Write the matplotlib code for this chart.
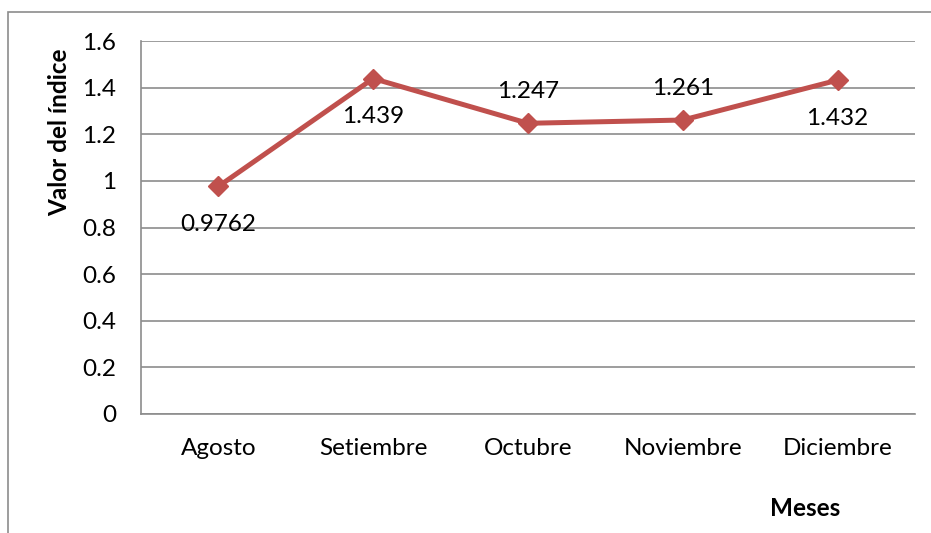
import matplotlib
matplotlib.use("Agg")
import matplotlib.pyplot as plt
from matplotlib.patches import Rectangle

months = ["Agosto", "Setiembre", "Octubre", "Noviembre", "Diciembre"]
values = [0.9762, 1.439, 1.247, 1.261, 1.432]
labels = ["0.9762", "1.439", "1.247", "1.261", "1.432"]
label_pos = ["below", "below", "above", "above", "below"]
yticks = [0, 0.2, 0.4, 0.6, 0.8, 1, 1.2, 1.4, 1.6]
ytick_labels = ["0", "0.2", "0.4", "0.6", "0.8", "1", "1.2", "1.4", "1.6"]

plt.rcParams['font.family'] = ['Lato', 'DejaVu Sans']

W, H = 931, 533
FS = 17.5
fig = plt.figure(figsize=(W/100, H/100), dpi=100)
ax = fig.add_axes([141/W, 1-414/H, (915-141)/W, (414-41)/H])

# outer chart border
fig.add_artist(Rectangle((8/W, -0.1), 1.2, 1-12/H+0.1, transform=fig.transFigure,
                         fill=False, edgecolor="#8c8c8c", linewidth=1.2))

x = list(range(len(months)))
ax.plot(x, values, color="#C0504D", linewidth=3.6, marker="D", markersize=10.5,
        markerfacecolor="#C0504D", markeredgecolor="#C0504D", zorder=3)

for xi, v, lab, pos in zip(x, values, labels, label_pos):
    off = -27.5 if pos == "below" else 23
    ax.annotate(lab, (xi, v), xytext=(0, off), textcoords="offset points",
                ha="center", va="center", fontsize=FS, color="black")

ax.set_xlim(-0.5, len(months)-0.5)
ax.set_ylim(0, 1.6)
ax.set_yticks(yticks)
ax.set_yticklabels(ytick_labels)
ax.set_xticks(x)
ax.set_xticklabels(months)
ax.tick_params(axis="both", length=0, labelsize=FS, colors="black")
ax.tick_params(axis="y", pad=18)
ax.tick_params(axis="x", pad=17)
ax.yaxis.grid(True, color="#8c8c8c", linewidth=1.2)
ax.set_axisbelow(True)
for s in ["top", "right"]:
    ax.spines[s].set_visible(False)
for s in ["left", "bottom"]:
    ax.spines[s].set_color("#8c8c8c")
    ax.spines[s].set_linewidth(1.2)

fig.text(60/W, 1-132/H, "Valor del índice", rotation=90, ha="center", va="center",
         fontsize=FS, fontweight="bold")
fig.text(805/W, 1-508/H, "Meses", ha="center", va="center",
         fontsize=FS, fontweight="bold")

fig.savefig("out.png", dpi=100)
